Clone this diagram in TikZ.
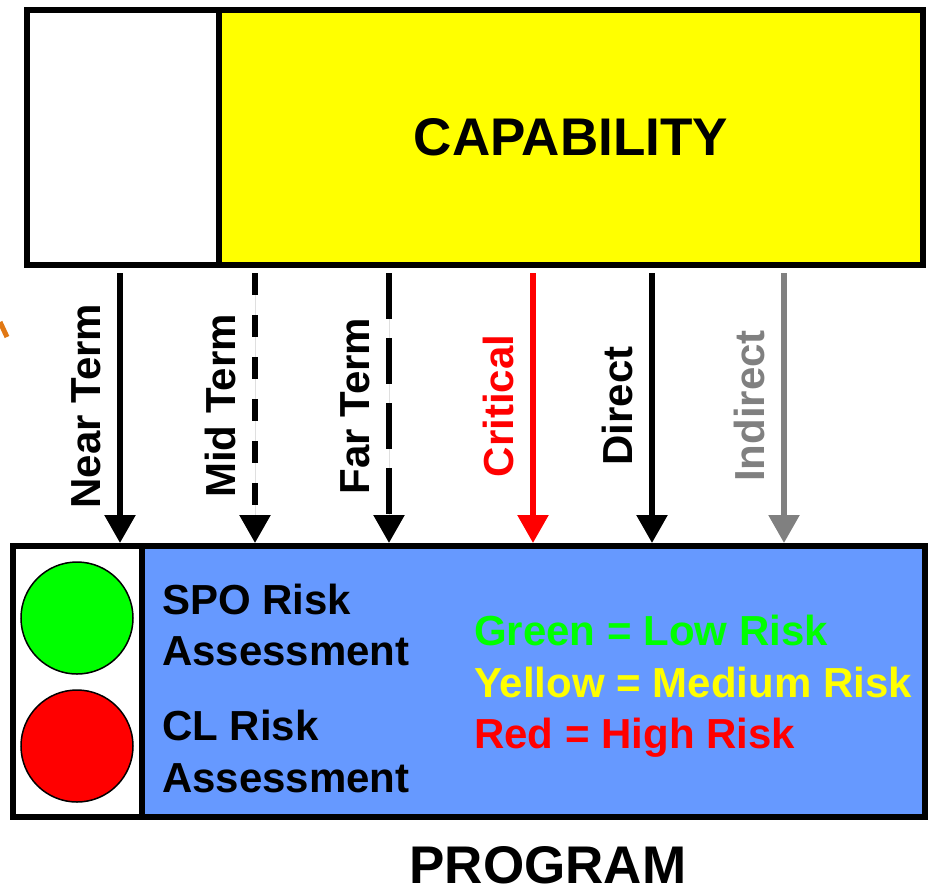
\documentclass[tikz,border=0pt]{standalone}
\usepackage{fontspec}
\setmainfont{Liberation Sans}
\usepackage{tikz}
\usetikzlibrary{arrows.meta}
\definecolor{progblue}{RGB}{102,153,255}
\definecolor{capyellow}{RGB}{255,255,0}
\definecolor{lowgreen}{RGB}{0,255,0}
\definecolor{highred}{RGB}{255,0,0}
\definecolor{indgray}{RGB}{128,128,128}
\definecolor{markorange}{RGB}{225,120,20}

\begin{document}
\begin{tikzpicture}[x=1pt, y=-1pt,
    panel/.style={draw=black, line width=6pt, inner sep=0pt},
    flow/.style={line width=5.5pt, -{Triangle[width=30pt,length=28pt]}, shorten <=5pt},
    plain/.style={solid},
    middash/.style={dash pattern=on 22pt off 20pt},
    fardash/.style={dash pattern=on 46pt off 19pt},
    vlab/.style={rotate=90, anchor=base, inner sep=0pt, font=\fontsize{42}{50}\selectfont\bfseries},
    txt/.style={anchor=base west, inner sep=0pt, font=\fontsize{42}{50}\selectfont\bfseries},
    light/.style={circle, draw=black, line width=1.5pt, minimum size=112pt, inner sep=0pt}]
    \useasboundingbox (0,0) rectangle (928,895);
    % Capability box
    \node[panel, fill=white, minimum width=192pt, minimum height=255pt] (term) at (123,137.5) {};
    \node[panel, fill=capyellow, minimum width=704pt, minimum height=255pt, font=\fontsize{53}{60}\selectfont\bfseries] (cap) at (571,137.5) {CAPABILITY};
    % Program box
    \node[panel, fill=white, minimum width=129pt, minimum height=271pt] (lights) at (77.5,681.5) {};
    \node[panel, fill=progblue, minimum width=783pt, minimum height=271pt] (prog) at (533.5,681.5) {};
    \node[light, fill=lowgreen] (lowlight) at (77,618) {};
    \node[light, fill=highred] (highlight) at (77,746) {};
    \node[txt] (spo1) at (162,614) {SPO Risk};
    \node[txt] (spo2) at (162,665) {Assessment};
    \node[txt] (cl1) at (162,740) {CL Risk};
    \node[txt] (cl2) at (162,792) {Assessment};
    % Risk legend
    \foreach \t/\c/\yy [count=\i] in {Green = Low Risk/lowgreen/645, Yellow = Medium Risk/capyellow/697, Red = High Risk/highred/748} {
        \node[txt, text=\c] (legend\i) at (474,\yy) {\t};
    }
    \node[anchor=base, inner sep=0pt, font=\fontsize{53}{60}\selectfont\bfseries] (progname) at (548,883) {PROGRAM};
    % Flows from capability down to program
    \foreach \x/\lbl/\col/\pat in {120/Near Term/black/plain, 255/Mid Term/black/middash, 389/Far Term/black/fardash, 533/Critical/highred/plain, 652/Direct/black/plain, 784/Indirect/indgray/plain} {
        \draw[flow, \pat, draw=\col, fill=\col] (\x,0 |- cap.south) -- (\x,0 |- prog.north);
        \node[vlab, text=\col] (lbl\x) at (\x-20,406) {\lbl};
    }
    % stray mark at the left edge
    \draw[markorange, line width=5pt] (0,322) -- (7,337);
\end{tikzpicture}
\end{document}
